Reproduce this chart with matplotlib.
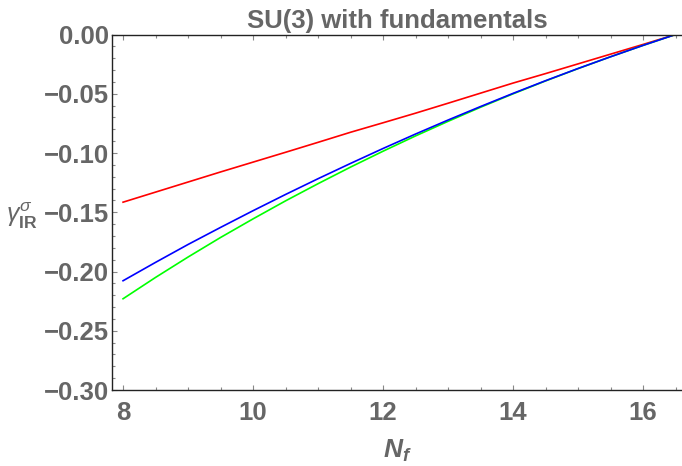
import matplotlib
matplotlib.use("Agg")
import matplotlib.pyplot as plt
from matplotlib.ticker import MultipleLocator, FuncFormatter

# values
nf = [8.0, 8.5, 9.0, 9.5, 10.0, 10.5, 11.0, 11.5, 12.0,
      12.5, 13.0, 13.5, 14.0, 14.5, 15.0, 15.5, 16.0, 16.5]
gamma_red = [-0.1415, -0.1330, -0.1245, -0.1160, -0.1077, -0.0994, -0.0910, -0.0825, -0.0745,
             -0.0664, -0.0580, -0.0495, -0.0410, -0.0330, -0.0248, -0.0166, -0.0084, 0.0]
gamma_blue = [-0.2078, -0.1923, -0.1772, -0.1628, -0.1487, -0.1350, -0.1217, -0.1088, -0.0962,
              -0.0840, -0.0722, -0.0608, -0.0497, -0.0390, -0.0287, -0.0188, -0.0092, 0.0]
gamma_green = [-0.2230, -0.2050, -0.1878, -0.1713, -0.1556, -0.1404, -0.1259, -0.1119, -0.0985,
               -0.0856, -0.0733, -0.0614, -0.0501, -0.0392, -0.0288, -0.0188, -0.0092, 0.0]

text_grey = "#666666"

plt.rcParams['font.family'] = ['Liberation Sans', 'DejaVu Sans']
plt.rcParams['mathtext.fontset'] = 'custom'
plt.rcParams['mathtext.rm'] = 'Liberation Sans'
plt.rcParams['mathtext.it'] = 'Liberation Sans:italic'
plt.rcParams['mathtext.bf'] = 'Liberation Sans:bold'
plt.rcParams['mathtext.bfit'] = 'Liberation Sans:italic:bold'

fig = plt.figure(figsize=(6.82, 4.66), dpi=100)
ax = fig.add_axes([112 / 682, 76 / 466, 570 / 682, 355.5 / 466])

ax.plot(nf, gamma_red, color=(1, 0, 0), lw=1.2)
ax.plot(nf, gamma_green, color=(0, 1, 0), lw=1.2)
ax.plot(nf, gamma_blue, color=(0, 0, 1), lw=1.2)

ax.set_xlim(7.83, 16.6)
ax.set_ylim(-0.30, 0.0)

ax.xaxis.set_major_locator(MultipleLocator(2))
ax.xaxis.set_minor_locator(MultipleLocator(0.5))
ax.yaxis.set_major_locator(MultipleLocator(0.05))
ax.yaxis.set_minor_locator(MultipleLocator(0.01))
ax.yaxis.set_major_formatter(FuncFormatter(lambda v, p: ('%.2f' % v).replace('-', '\u2212')))

ax.spines['right'].set_visible(False)
for side in ['left', 'bottom', 'top']:
    ax.spines[side].set_color('#222222')
    ax.spines[side].set_linewidth(1.0)

ax.tick_params(which='both', direction='in', top=True, right=False,
               color='#888888', width=0.8)
ax.tick_params(which='major', length=3.5)
ax.tick_params(which='minor', length=2)
ax.tick_params(axis='x', which='major', pad=8, labelsize=18.5, labelcolor=text_grey)
ax.tick_params(axis='y', which='major', pad=2, labelsize=18.5, labelcolor=text_grey)
for lab in ax.get_xticklabels() + ax.get_yticklabels():
    lab.set_fontweight('bold')

ax.set_title('SU(3) with fundamentals', fontsize=18.5, fontweight='bold',
             color=text_grey, pad=5)
ax.set_xlabel(r'$\mathbfit{N}_{\mathbfit{f}}$', fontsize=19, color=text_grey, labelpad=9)
ax.set_ylabel(r'$\gamma_{\mathbf{IR}}^{\sigma}$', fontsize=18, color=text_grey,
              rotation=0, ha='right', va='center')
ax.yaxis.set_label_coords(-0.13, 0.49)

fig.savefig('out.png', dpi=100)
